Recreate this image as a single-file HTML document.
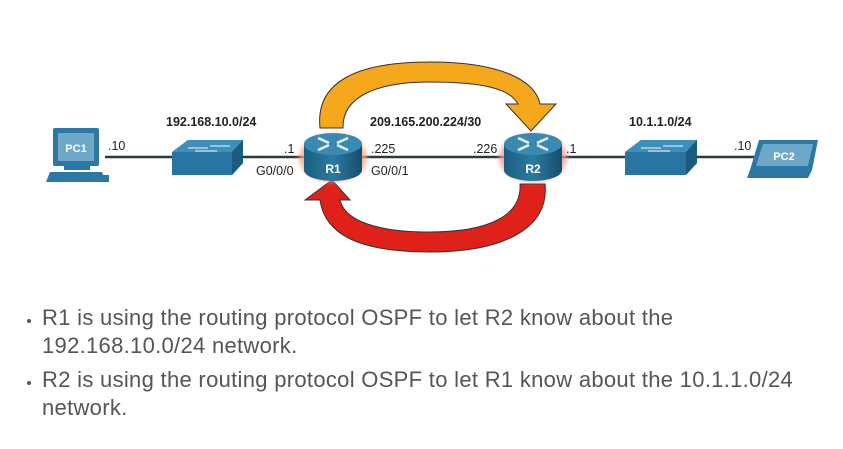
<!DOCTYPE html>
<html><head><style>
body{margin:0;background:#fff;width:843px;height:449px;overflow:hidden;font-family:"Liberation Sans",sans-serif}
ul{position:absolute;left:0;top:304px;margin:0;padding-left:42px;color:#555;font-size:22px;letter-spacing:0.3px;line-height:28px;width:772px}
li{margin-bottom:6px;padding-left:0}
li::marker{font-size:15px}
</style></head><body>
<svg width="843" height="300" style="position:absolute;left:0;top:0" font-family="Liberation Sans, sans-serif">
<defs>
<linearGradient id="rb" x1="0" x2="1"><stop offset="0" stop-color="#1c5e80"/><stop offset=".5" stop-color="#2a7aa0"/><stop offset="1" stop-color="#174d6b"/></linearGradient>
<filter id="gl"><feGaussianBlur stdDeviation="2.5"/></filter>
</defs>
<line x1="105" y1="157" x2="800" y2="157" stroke="#2b3a3f" stroke-width="2.5"/>
<path d="M320,128 C315,80 360,62 430,62 C500,62 535,80 540,104 L556,104 L531,131 L506,104 L518,104 C510,88 480,82 430,82 C380,82 342,95 343,128 Z" fill="#f5a81c" stroke="#333" stroke-width="1"/>
<path d="M545,184 C550,230 500,252 430,252 C360,252 325,235 320,200 L305,200 L332,180 L350,200 L340,200 C345,222 380,232 430,232 C490,232 522,215 520,184 Z" fill="#e0211a" stroke="#333" stroke-width="1"/>
<rect x="53" y="128" width="46" height="38" rx="2" fill="#2a78a3"/>
<rect x="58" y="133" width="36" height="28" fill="#6ea8c8"/>
<text x="76" y="152" font-size="11" font-weight="bold" fill="#fff" text-anchor="middle">PC1</text>
<rect x="64" y="166" width="26" height="4" fill="#2a78a3"/>
<path d="M50,172 L102,172 L106,182 L46,182 Z" fill="#2a78a3"/>
<rect x="101" y="175" width="8" height="7" fill="#2a78a3"/>
<path d="M172,152 L188,140 L243,140 L243,163 L232,175 L172,175 Z" fill="#2775a0"/>
<path d="M172,152 L188,140 L243,140 L232,152 Z" fill="#3d8fbb"/>
<path d="M232,152 L243,140 L243,163 L232,175 Z" fill="#1b5b7e"/>
<path d="M188,148 h20 M210,146 h20 M195,151 h22" stroke="#cfe3ef" stroke-width="1.2"/>
<path d="M625,152 L641,140 L697,140 L697,163 L686,175 L625,175 Z" fill="#2775a0"/>
<path d="M625,152 L641,140 L697,140 L686,152 Z" fill="#3d8fbb"/>
<path d="M686,152 L697,140 L697,163 L686,175 Z" fill="#1b5b7e"/>
<path d="M641,148 h20 M663,146 h20 M648,151 h22" stroke="#cfe3ef" stroke-width="1.2"/>
<path d="M759,140 L818,140 L812,170 L750,170 Z" fill="#2a78a3"/>
<path d="M763,144 L813,144 L808,166 L756,166 Z" fill="#6ea8c8"/>
<text x="784" y="160" font-size="11" font-weight="bold" fill="#fff" text-anchor="middle">PC2</text>
<path d="M750,170 L812,170 L808,178 L747,178 Z" fill="#2a78a3"/>
<g>
<ellipse cx="333" cy="158" rx="34" ry="24" fill="#f7a77a" filter="url(#gl)" opacity=".8"/>
<path d="M304,144 L304,170 A29,11 0 0 0 362,170 L362,144 Z" fill="url(#rb)"/>
<ellipse cx="333" cy="144" rx="29" ry="11" fill="#3a89b3"/>
<path d="M318,138 l11,5 M348,138 l-11,5 M318,150 l11,-5 M348,150 l-11,-5" stroke="#e8f2f8" stroke-width="2.5"/>
<text x="333" y="173" font-size="12" font-weight="bold" fill="#fff" text-anchor="middle">R1</text>
</g>
<g>
<ellipse cx="533" cy="158" rx="34" ry="24" fill="#f29a9a" filter="url(#gl)" opacity=".8"/>
<path d="M504,144 L504,170 A29,11 0 0 0 562,170 L562,144 Z" fill="url(#rb)"/>
<ellipse cx="533" cy="144" rx="29" ry="11" fill="#3a89b3"/>
<path d="M518,138 l11,5 M548,138 l-11,5 M518,150 l11,-5 M548,150 l-11,-5" stroke="#e8f2f8" stroke-width="2.5"/>
<text x="533" y="173" font-size="12" font-weight="bold" fill="#fff" text-anchor="middle">R2</text>
</g>
<g font-size="12.5" fill="#222">
<text x="166" y="126" font-weight="bold">192.168.10.0/24</text>
<text x="370" y="126" font-weight="bold">209.165.200.224/30</text>
<text x="629" y="126" font-weight="bold">10.1.1.0/24</text>
<text x="108" y="150">.10</text>
<text x="284" y="153">.1</text>
<text x="256" y="175">G0/0/0</text>
<text x="371" y="153">.225</text>
<text x="371" y="175">G0/0/1</text>
<text x="473" y="153">.226</text>
<text x="566" y="153">.1</text>
<text x="734" y="150">.10</text>
</g>
</svg>
<ul>
<li>R1 is using the routing protocol OSPF to let R2 know about the 192.168.10.0/24 network.</li>
<li>R2 is using the routing protocol OSPF to let R1 know about the 10.1.1.0/24 network.</li>
</ul>
</body></html>
